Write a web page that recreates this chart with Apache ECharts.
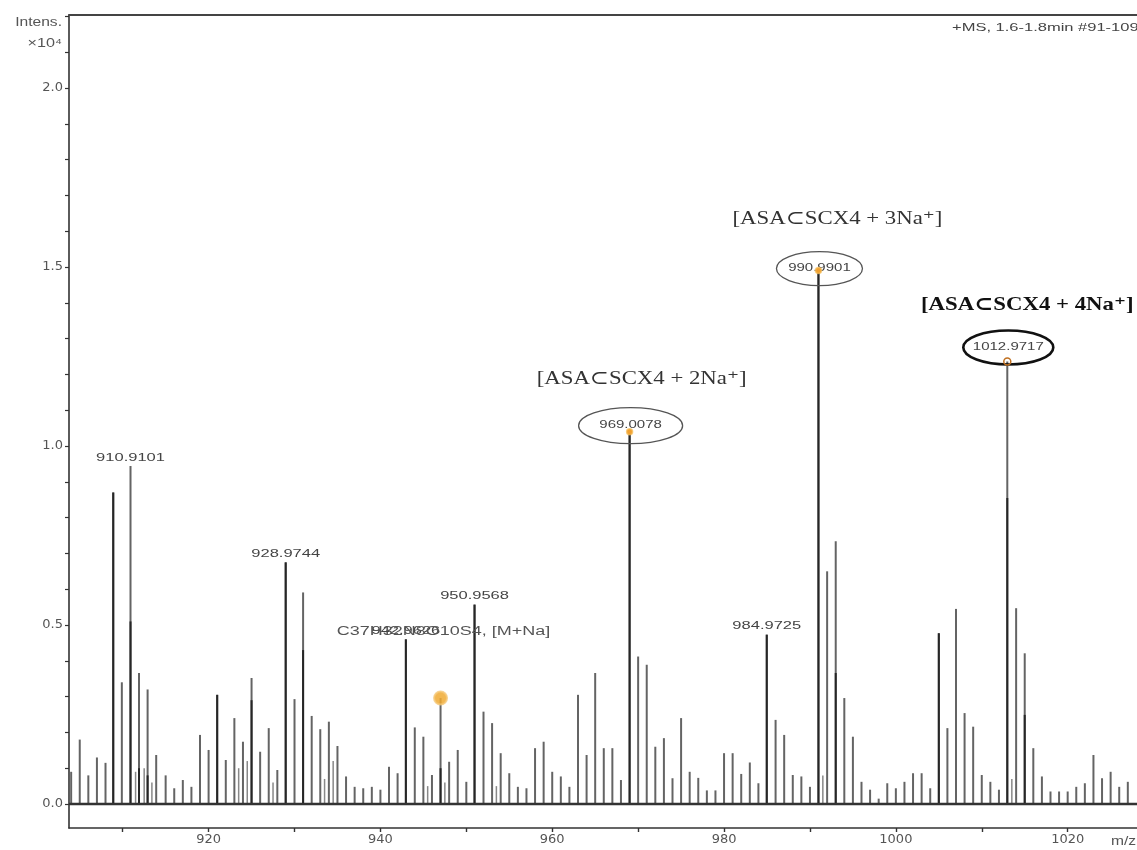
<!DOCTYPE html>
<html>
<head>
<meta charset="utf-8">
<script src="https://cdn.jsdelivr.net/npm/echarts@6/dist/echarts.min.js"></script>
<style>
  html, body { margin: 0; padding: 0; background: #fff; }
  #chart { width: 1137px; height: 850px; }
</style>
</head>
<body>
<div id="chart"></div>
<script>
// ESI(+) mass spectrum, m/z 904–1028, intensity in units of 10^4

// Full stick spectrum (m/z, intensity x10^4)
const spectrumMz = [
  904.0, 905.0, 906.0, 907.0, 908.0, 908.9, 909.9, 910.9101, 911.9, 912.9, 913.9,
  915.0, 916.0, 917.0, 918.0, 919.0, 920.0, 921.0, 922.0, 923.0, 924.0, 925.0,
  926.0, 927.0, 928.0, 928.9744, 930.0, 931.0, 932.0, 933.0, 934.0, 935.0, 936.0,
  937.0, 938.0, 939.0, 940.0, 941.0, 942.0, 942.9626, 944.0, 945.0, 946.0, 947.0,
  948.0, 949.0, 950.0, 950.9568, 952.0, 953.0, 954.0, 955.0, 956.0, 957.0, 958.0,
  959.0, 960.0, 961.0, 962.0, 963.0, 964.0, 965.0, 966.0, 967.0, 968.0, 969.0078,
  970.0, 971.0, 972.0, 973.0, 974.0, 975.0, 976.0, 977.0, 978.0, 979.0, 980.0,
  981.0, 982.0, 983.0, 984.0, 984.9725, 986.0, 987.0, 988.0, 989.0, 990.0, 990.9901,
  992.0, 993.0, 994.0, 995.0, 996.0, 997.0, 998.0, 999.0, 1000.0, 1001.0, 1002.0,
  1003.0, 1004.0, 1005.0, 1006.0, 1007.0, 1008.0, 1009.0, 1010.0, 1011.0, 1012.0,
  1012.9717, 1014.0, 1015.0, 1016.0, 1017.0, 1018.0, 1019.0, 1020.0, 1021.0, 1022.0,
  1023.0, 1024.0, 1025.0, 1026.0, 1027.0
];
const spectrumIntens = [
  0.09, 0.18, 0.08, 0.13, 0.115, 0.87, 0.34, 0.944, 0.366, 0.32, 0.137,
  0.08, 0.044, 0.067, 0.048, 0.193, 0.151, 0.305, 0.123, 0.24, 0.174, 0.352,
  0.146, 0.212, 0.095, 0.675, 0.293, 0.591, 0.246, 0.209, 0.23, 0.162, 0.077,
  0.048, 0.044, 0.048, 0.04, 0.104, 0.086, 0.46, 0.214, 0.188, 0.081, 0.296,
  0.118, 0.151, 0.062, 0.557, 0.258, 0.226, 0.142, 0.086, 0.048, 0.044, 0.156,
  0.174, 0.09, 0.077, 0.048, 0.305, 0.137, 0.366, 0.156, 0.156, 0.067, 1.04,
  0.412, 0.389, 0.16, 0.184, 0.072, 0.24, 0.09, 0.073, 0.038, 0.038, 0.142,
  0.142, 0.084, 0.116, 0.058, 0.473, 0.235, 0.193, 0.081, 0.077, 0.048, 1.49,
  0.65, 0.734, 0.296, 0.188, 0.062, 0.04, 0.015, 0.058, 0.044, 0.062, 0.086,
  0.086, 0.044, 0.477, 0.212, 0.545, 0.254, 0.216, 0.081, 0.062, 0.04,
  1.236, 0.547, 0.421, 0.156, 0.077, 0.035, 0.035, 0.035, 0.048, 0.058,
  0.137, 0.072, 0.09, 0.048, 0.062
];

// Minor half-mass signals between the main isotope lines
const minorMz = [911.5, 912.5, 913.4, 923.5, 924.5, 927.5, 933.5, 934.5, 945.5, 947.5, 953.5, 991.5, 1013.5];
const minorIntens = [0.09, 0.1, 0.06, 0.1, 0.12, 0.06, 0.07, 0.12, 0.05, 0.06, 0.05, 0.08, 0.07];

// Overlaid (darker) trace
const overlayMz = [908.9, 910.9101, 911.9, 912.9, 921.0, 925.0, 928.9744, 931.0, 942.9626, 947.0,
  950.9568, 969.0078, 984.9725, 990.9901, 993.0, 1005.0, 1012.9717, 1015.0];
const overlayIntens = [0.87, 0.51, 0.1, 0.08, 0.305, 0.29, 0.675, 0.43, 0.46, 0.1,
  0.557, 1.04, 0.473, 1.49, 0.366, 0.477, 0.855, 0.249];

// Peaks labelled with their m/z
const labelledMz = [910.9101, 928.9744, 942.9626, 950.9568, 984.9725];
const labelledIntens = [0.944, 0.675, 0.46, 0.557, 0.473];

// Sodium adduct series of the host–guest complex
const adductMz = [969.0078, 990.9901, 1012.9717];
const adductIntens = [1.04, 1.49, 1.236];
const adductNames = ['[ASA\u2282SCX4 + 2Na\u207A]', '[ASA\u2282SCX4 + 3Na\u207A]', '[ASA\u2282SCX4 + 4Na\u207A]'];

// Highlighted compound peak
const compoundMz = [947.0];
const compoundIntens = [0.296];
const compoundName = 'C37H32N8O10S4, [M+Na]';

// Axis ticks
const xTickValues = [910, 920, 930, 940, 950, 960, 970, 980, 990, 1000, 1010, 1020];
const xTickLabels = [920, 940, 960, 980, 1000, 1020];
const yTickValues = [0, 0.1, 0.2, 0.3, 0.4, 0.5, 0.6, 0.7, 0.8, 0.9, 1.0, 1.1, 1.2, 1.3, 1.4, 1.5, 1.6, 1.7, 1.8, 1.9, 2.0, 2.1, 2.2];
const yTickLabels = [0, 0.5, 1.0, 1.5, 2.0];

const zip = (a, b) => a.map((v, i) => [v, b[i]]);

const SANS = '"Liberation Sans", Arial, sans-serif';
const WIDE = '"DejaVu Sans", "Liberation Sans", sans-serif';
const SERIF = '"Liberation Serif", "DejaVu Serif", serif';
const WIDEN = 1.5; // horizontal stretch for the instrument-style small labels

function stickRenderer(color, width) {
  return function (params, api) {
    const top = api.coord([api.value(0), api.value(1)]);
    const base = api.coord([api.value(0), 0]);
    return {
      type: 'line',
      shape: { x1: base[0], y1: base[1], x2: top[0], y2: top[1] },
      style: { stroke: color, lineWidth: width }
    };
  };
}

// Ellipse/label styling for each adduct annotation
const adductStyle = [
  { rx: 52, ry: 18, dy: -6, stroke: '#555', lw: 1.3, nameDx: 12, nameDy: -53, font: '19px ' + SERIF, nameColor: '#333' },
  { rx: 43, ry: 17, dy: -2, stroke: '#555', lw: 1.3, nameDx: 19, nameDy: -52, font: '19px ' + SERIF, nameColor: '#333' },
  { rx: 45, ry: 17, dy: -14, stroke: '#111', lw: 2.6, nameDx: 20, nameDy: -56, font: 'bold 19px ' + SERIF, nameColor: '#111' }
];

const chart = echarts.init(document.getElementById('chart'), null, { renderer: 'canvas' });

chart.setOption({
  animation: false,
  backgroundColor: '#fff',
  grid: { left: 69, right: 0, top: 15, bottom: 22 },
  xAxis: [
    {
      type: 'value',
      min: 903.75,
      max: 1028.07,
      position: 'bottom',
      axisLine: { show: true, onZero: false, lineStyle: { color: '#333', width: 1.6 } },
      axisTick: { show: true, customValues: xTickValues, length: 4, lineStyle: { color: '#333', width: 1.4 } },
      axisLabel: {
        customValues: xTickLabels,
        color: '#555', fontSize: 13, fontFamily: WIDE, margin: 5,
        formatter: v => String(v)
      },
      splitLine: { show: false }
    },
    {
      type: 'value',
      min: 903.75,
      max: 1028.07,
      position: 'top',
      axisLine: { show: true, onZero: false, lineStyle: { color: '#444', width: 1.8 } },
      axisTick: { show: false },
      axisLabel: { show: false },
      splitLine: { show: false }
    }
  ],
  yAxis: {
    type: 'value',
    min: -0.067,
    max: 2.204,
    axisLine: { show: true, onZero: false, lineStyle: { color: '#333', width: 1.6 } },
    axisTick: { show: true, customValues: yTickValues, length: 4, lineStyle: { color: '#333', width: 1.2 } },
    axisLabel: {
      customValues: yTickLabels,
      color: '#555', fontSize: 13, fontFamily: WIDE, margin: 6,
      formatter: v => v.toFixed(1)
    },
    splitLine: { show: false }
  },
  series: [
    {
      name: 'minor',
      type: 'custom',
      clip: true,
      renderItem: stickRenderer('#888', 1.5),
      data: zip(minorMz, minorIntens),
      z: 2
    },
    {
      name: 'spectrum',
      type: 'custom',
      clip: true,
      renderItem: stickRenderer('#646464', 2),
      data: zip(spectrumMz, spectrumIntens),
      markLine: {
        silent: true,
        symbol: 'none',
        label: { show: false },
        lineStyle: { color: '#333', width: 2.4, type: 'solid' },
        data: [{ yAxis: 0 }]
      },
      z: 3
    },
    {
      name: 'overlay',
      type: 'custom',
      clip: true,
      renderItem: stickRenderer('#262626', 2),
      data: zip(overlayMz, overlayIntens),
      z: 4
    },
    {
      name: 'peak labels',
      type: 'custom',
      renderItem: function (params, api) {
        const p = api.coord([api.value(0), api.value(1)]);
        return {
          type: 'text',
          x: p[0], y: p[1] - 3,
          scaleX: WIDEN,
          style: {
            text: api.value(0).toFixed(4),
            fill: '#444', font: '11px ' + SANS,
            textAlign: 'center', textVerticalAlign: 'bottom'
          }
        };
      },
      data: zip(labelledMz, labelledIntens),
      z: 6
    },
    {
      name: 'compound',
      type: 'custom',
      renderItem: function (params, api) {
        const p = api.coord([api.value(0), api.value(1)]);
        return {
          type: 'group',
          children: [
            {
              type: 'circle',
              shape: { cx: p[0], cy: p[1], r: 6.5 },
              style: { fill: 'rgba(240,170,50,0.85)', stroke: 'rgba(245,200,120,0.8)', lineWidth: 2 }
            },
            {
              type: 'text',
              x: p[0] + 3, y: p[1] - 66,
              scaleX: WIDEN,
              style: {
                text: compoundName,
                fill: '#555', font: '12px ' + SANS,
                textAlign: 'center', textVerticalAlign: 'middle'
              }
            }
          ]
        };
      },
      data: zip(compoundMz, compoundIntens),
      z: 7
    },
    {
      name: 'adducts',
      type: 'custom',
      renderItem: function (params, api) {
        const s = adductStyle[params.dataIndex];
        const p = api.coord([api.value(0), api.value(1)]);
        const cy = p[1] + s.dy;
        return {
          type: 'group',
          children: [
            {
              type: 'ellipse',
              shape: { cx: p[0] + 1, cy: cy, rx: s.rx, ry: s.ry },
              style: { fill: 'none', stroke: s.stroke, lineWidth: s.lw }
            },
            {
              type: 'text',
              x: p[0] + 1, y: cy,
              scaleX: WIDEN,
              style: {
                text: api.value(0).toFixed(4),
                fill: '#444', font: '10px ' + SANS,
                textAlign: 'center', textVerticalAlign: 'middle'
              }
            },
            {
              type: 'circle',
              shape: { cx: p[0], cy: p[1], r: params.dataIndex === 2 ? 3.5 : 3 },
              style: params.dataIndex === 2
                ? { fill: 'rgba(0,0,0,0)', stroke: '#c07020', lineWidth: 1.5 }
                : { fill: '#f0a030', stroke: 'rgba(245,190,90,0.7)', lineWidth: 1.5 }
            },
            {
              type: 'text',
              x: p[0] + s.nameDx, y: p[1] + s.nameDy,
              scaleX: 1.2,
              style: {
                text: adductNames[params.dataIndex],
                fill: s.nameColor, font: s.font,
                textAlign: 'center', textVerticalAlign: 'middle'
              }
            }
          ]
        };
      },
      data: zip(adductMz, adductIntens),
      z: 8
    }
  ],
  graphic: [
    {
      type: 'text', x: 62, y: 23, scaleX: 1.3,
      style: { text: 'Intens.', fill: '#555', font: '12px ' + SANS, textAlign: 'right', textVerticalAlign: 'middle' }
    },
    {
      type: 'text', x: 62, y: 44, scaleX: 1.35,
      style: { text: '\u00D710\u2074', fill: '#555', font: '12px ' + SANS, textAlign: 'right', textVerticalAlign: 'middle' }
    },
    {
      type: 'text', x: 952, y: 28, scaleX: 1.5,
      style: { text: '+MS, 1.6-1.8min #91-109', fill: '#444', font: '11px ' + SANS, textVerticalAlign: 'middle' }
    },
    {
      type: 'text', x: 1111, y: 842, scaleX: 1.3,
      style: { text: 'm/z', fill: '#555', font: '12px ' + SANS, textVerticalAlign: 'middle' }
    }
  ]
});
</script>
</body>
</html>
